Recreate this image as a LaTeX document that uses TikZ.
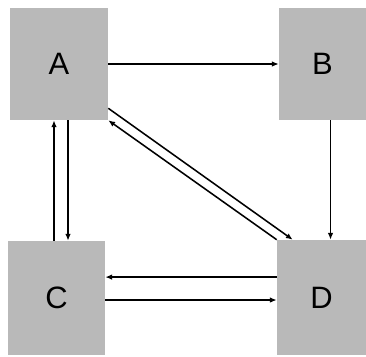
\documentclass[tikz,border=0pt]{standalone}
\usepackage{fontspec}
\setmainfont{Liberation Sans}
\usepackage{tikz}
\usetikzlibrary{
  positioning,
  arrows.meta
}
\tikzset{
  >=Latex,
  flowarrow/.style={-{Latex[length=1.7mm,width=1.4mm]},line width=1.1pt},
  block/.style={rectangle,fill=gray!55,inner sep=0pt,font=\fontsize{22}{24}\selectfont}
}

\begin{document}
\begin{tikzpicture}[x=0.025cm, y=-0.025cm]
    \useasboundingbox (0,0) rectangle (366,356);
    \node[block,minimum width=2.45cm,minimum height=2.8cm] (a) at (59,64) {A};
    \node[block,minimum width=2.175cm,minimum height=2.8cm] (b) at (322.5,64) {B};
    \node[block,minimum width=2.425cm,minimum height=2.85cm] (c) at (56.5,298) {C};
    \node[block,minimum width=2.225cm,minimum height=2.875cm] (d) at (321.5,297.5) {D};

    \draw[flowarrow] (a) -- (b);
    \draw[flowarrow] ([xshift=0.2cm]b.south) -- ([xshift=0.2cm]b.south |- d.north);
    \draw[flowarrow] ([xshift=-0.125cm]a.south |- c.north) -- ([xshift=-0.125cm]a.south);
    \draw[flowarrow] ([xshift=0.225cm]a.south) -- ([xshift=0.225cm]a.south |- c.north);
    \draw[flowarrow] ([yshift=0.3cm]a.south east) -- ([xshift=0.4cm]d.north west);
    \draw[flowarrow] (d.north west) -- (a.south east);
    \draw[flowarrow] ([yshift=0.51cm]d.west) -- ([yshift=0.51cm]d.west -| c.east);
    \draw[flowarrow] ([yshift=-0.05cm]c.east) -- ([yshift=-0.05cm]c.east -| d.west);
\end{tikzpicture}
\end{document}
